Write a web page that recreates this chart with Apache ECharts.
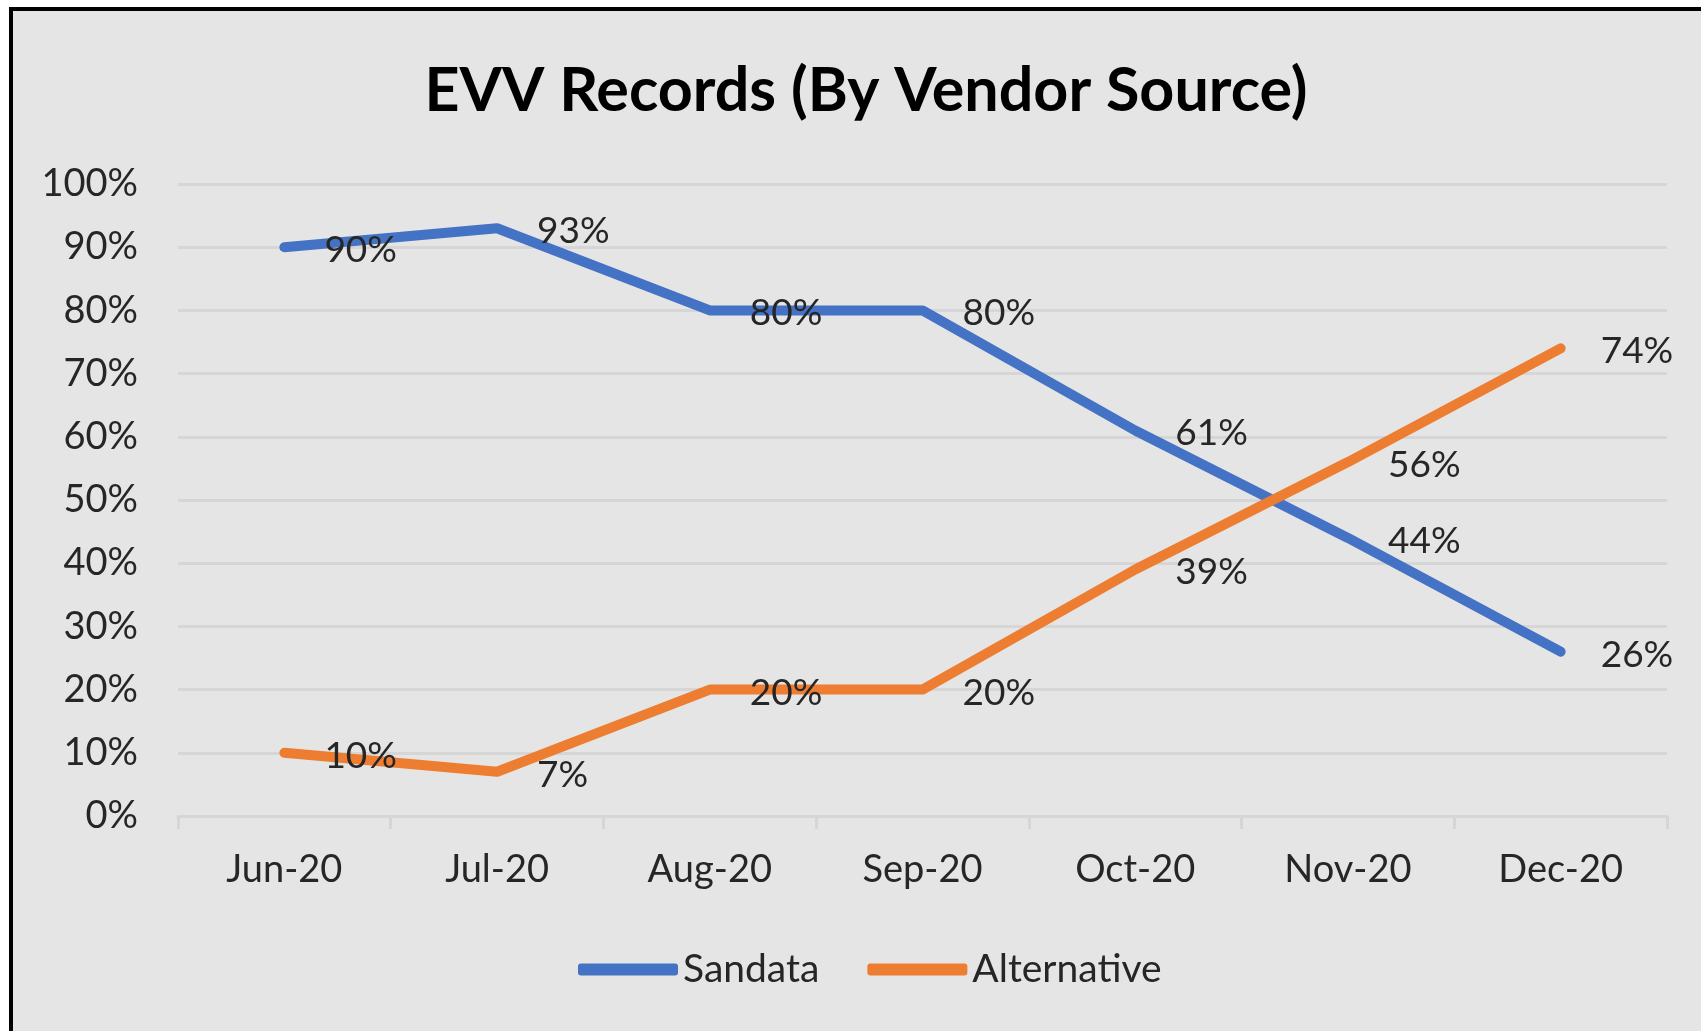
<!DOCTYPE html>
<html>
<head>
<meta charset="utf-8">
<script src="https://cdn.jsdelivr.net/npm/echarts@6/dist/echarts.min.js"></script>
<style>
    html, body { margin: 0; padding: 0; background: #ffffff; }
    #frame {
        position: absolute; left: 9px; top: 7px; right: 0; bottom: 0;
        border-left: 4px solid #000; border-top: 4px solid #000;
        background: #e5e5e5;
    }
    #chart { position: absolute; left: 0; top: 0; width: 1701px; height: 1031px; }
</style>
</head>
<body>
<div id="frame"></div>
<div id="chart"></div>
<script>
var months = ['Jun-20', 'Jul-20', 'Aug-20', 'Sep-20', 'Oct-20', 'Nov-20', 'Dec-20'];
var sandata = [90, 93, 80, 80, 61, 44, 26];
var alternative = [10, 7, 20, 20, 39, 56, 74];

var FONT = 'Lato';
var textColor = '#262626';
var gridColor = '#d6d6d6';

function lineSeries(name, data, color) {
    return {
        name: name,
        type: 'line',
        data: data,
        symbol: 'circle',
        symbolSize: 0.1,
        showSymbol: true,
        lineStyle: { width: 10, color: color, cap: 'round', join: 'round' },
        itemStyle: { color: color },
        label: {
            show: true,
            position: 'right',
            distance: 40,
            offset: [0, 3],
            formatter: '{c}%',
            color: textColor,
            fontFamily: FONT,
            fontSize: 37
        },
        z: 3
    };
}

var myChart = echarts.init(document.getElementById('chart'));
myChart.setOption({
    backgroundColor: 'transparent',
    animation: false,
    title: {
        text: 'EVV Records (By Vendor Source)',
        left: 861,
        top: 56,
        textAlign: 'center',
        textStyle: { fontFamily: FONT, fontWeight: 'bold', fontSize: 61, color: '#000' }
    },
    legend: {
        left: 573,
        top: 945,
        itemWidth: 100,
        itemHeight: 12,
        itemGap: 48,
        icon: 'roundRect',
        textStyle: { fontFamily: FONT, fontSize: 39, color: textColor },
        data: [
            { name: 'Sandata', itemStyle: { color: '#4472c4' } },
            { name: 'Alternative', itemStyle: { color: '#ed7d31' } }
        ]
    },
    grid: {
        left: 178,
        right: 34,
        top: 184,
        bottom: 215
    },
    xAxis: {
        type: 'category',
        boundaryGap: true,
        data: months,
        axisLine: { show: true, lineStyle: { color: gridColor, width: 3 } },
        axisTick: { show: true, length: 13, lineStyle: { color: gridColor, width: 3 } },
        axisLabel: { margin: 35, fontFamily: FONT, fontSize: 38, color: textColor }
    },
    yAxis: {
        type: 'value',
        min: 0,
        max: 100,
        interval: 10,
        axisLine: { show: false },
        axisTick: { show: false },
        splitLine: { lineStyle: { color: gridColor, width: 3 } },
        axisLabel: { margin: 40, formatter: '{value}%', fontFamily: FONT, fontSize: 38, color: textColor }
    },
    series: [
        lineSeries('Sandata', sandata, '#4472c4'),
        lineSeries('Alternative', alternative, '#ed7d31')
    ]
});
</script>
</body>
</html>
